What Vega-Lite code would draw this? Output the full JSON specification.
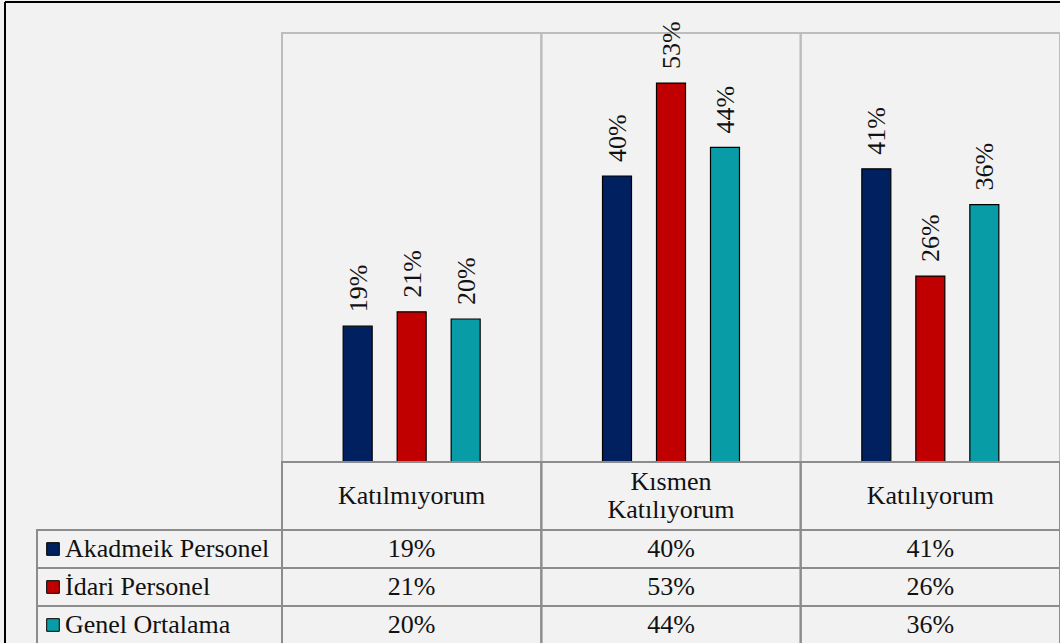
{
  "$schema": "https://vega.github.io/schema/vega-lite/v6.json",
  "background": "#f2f2f2",
  "padding": {"left": 4, "top": 1, "right": 0, "bottom": 0},
  "config": {
    "view": {"stroke": null},
    "concat": {"spacing": 0},
    "font": "Liberation Serif"
  },
  "datasets": {
    "survey": [
      {"cat": "Katılmıyorum", "series": "Akadmeik Personel", "value": 0.19},
      {"cat": "Katılmıyorum", "series": "İdari Personel", "value": 0.21},
      {"cat": "Katılmıyorum", "series": "Genel Ortalama", "value": 0.20},
      {"cat": "Kısmen Katılıyorum", "series": "Akadmeik Personel", "value": 0.40},
      {"cat": "Kısmen Katılıyorum", "series": "İdari Personel", "value": 0.53},
      {"cat": "Kısmen Katılıyorum", "series": "Genel Ortalama", "value": 0.44},
      {"cat": "Katılıyorum", "series": "Akadmeik Personel", "value": 0.41},
      {"cat": "Katılıyorum", "series": "İdari Personel", "value": 0.26},
      {"cat": "Katılıyorum", "series": "Genel Ortalama", "value": 0.36}
    ],
    "one": [{}],
    "cats": [{"cat": "Katılmıyorum"}, {"cat": "Kısmen Katılıyorum"}, {"cat": "Katılıyorum"}],
    "series": [{"series": "Akadmeik Personel"}, {"series": "İdari Personel"}, {"series": "Genel Ortalama"}]
  },
  "columns": 3,
  "spacing": 0,
  "bounds": "flush",
  "align": "each",
  "concat": [
    {
      "width": 32,
      "height": 460,
      "data": {"name": "one"},
      "layer": [
        {"mark": {"type": "rule", "color": "#000000", "strokeWidth": 2},
         "encoding": {"x": {"datum": 0, "type": "quantitative", "scale": {"domain": [0, 1]}, "axis": null}}},
        {"mark": {"type": "rule", "color": "#000000", "strokeWidth": 2},
         "encoding": {"y": {"datum": 1, "type": "quantitative", "scale": {"domain": [0, 1]}, "axis": null}}}
      ]
    },
    {
      "width": 245,
      "height": 460,
      "data": {"name": "one"},
      "mark": {"type": "rule", "color": "#000000", "strokeWidth": 2},
      "encoding": {"y": {"datum": 1, "type": "quantitative", "scale": {"domain": [0, 1]}, "axis": null}}
    },
    {
      "width": 778,
      "height": 460,
      "resolve": {"scale": {"x": "independent"}},
      "layer": [
        {
          "data": {"name": "cats"},
          "mark": {"type": "rect", "fillOpacity": 0, "stroke": "#bdbdbd", "strokeWidth": 2},
          "encoding": {
            "x": {"field": "cat", "type": "nominal", "sort": ["Katılmıyorum", "Kısmen Katılıyorum", "Katılıyorum"], "scale": {"paddingInner": 0, "paddingOuter": 0}, "axis": null},
            "y": {"datum": 0, "type": "quantitative", "scale": {"domain": [0, 0.6434]}, "axis": null},
            "y2": {"datum": 0.6}
          }
        },
        {
          "data": {"name": "one"},
          "mark": {"type": "rule", "color": "#000000", "strokeWidth": 2},
          "encoding": {"y": {"datum": 0.6434, "type": "quantitative", "scale": {"domain": [0, 0.6434]}, "axis": null}}
        },
        {
          "data": {"name": "survey"},
          "layer": [
            {
              "mark": {"type": "bar", "stroke": "#000000", "strokeWidth": 1.2},
              "encoding": {
                "color": {"field": "series", "type": "nominal", "scale": {"domain": ["Akadmeik Personel", "İdari Personel", "Genel Ortalama"], "range": ["#002060", "#C00000", "#089DA6"]}, "legend": null}
              }
            },
            {
              "mark": {"type": "text", "font": "Liberation Serif", "fontSize": 26, "color": "#111111", "angle": 270, "align": "left", "baseline": "middle", "dx": 14, "dy": 1},
              "encoding": {
                "text": {"field": "value", "type": "quantitative", "format": ".0%"}
              }
            }
          ],
          "encoding": {
            "x": {"field": "cat", "type": "nominal", "sort": ["Katılmıyorum", "Kısmen Katılıyorum", "Katılıyorum"], "scale": {"paddingInner": 0.0553, "paddingOuter": 0.02765}, "axis": null},
            "xOffset": {"field": "series", "type": "nominal", "sort": ["Akadmeik Personel", "İdari Personel", "Genel Ortalama"], "scale": {"paddingInner": 0.463, "paddingOuter": 1}},
            "y": {"field": "value", "type": "quantitative", "scale": {"domain": [0, 0.6434]}, "axis": null}
          }
        }
      ]
    },
    {
      "width": 32,
      "height": 68,
      "data": {"name": "one"},
      "mark": {"type": "rule", "color": "#000000", "strokeWidth": 2},
      "encoding": {"x": {"datum": 0, "type": "quantitative", "scale": {"domain": [0, 1]}, "axis": null}}
    },
    {
      "width": 245,
      "height": 68,
      "data": {"name": "one"},
      "mark": {"type": "text"},
      "encoding": {"text": {"value": ""}}
    },
    {
      "width": 778,
      "height": 68,
      "data": {"name": "cats"},
      "layer": [
        {
          "mark": {"type": "rect", "fillOpacity": 0, "stroke": "#8c8c8c", "strokeWidth": 2},
          "encoding": {
            "x": {"field": "cat", "type": "nominal", "sort": ["Katılmıyorum", "Kısmen Katılıyorum", "Katılıyorum"], "scale": {"paddingInner": 0, "paddingOuter": 0}, "axis": null}
          }
        },
        {
          "transform": [{"filter": "indexof(datum.cat, ' ') < 0"}],
          "mark": {"type": "text", "font": "Liberation Serif", "fontSize": 26, "color": "#111111", "baseline": "middle"},
          "encoding": {
            "x": {"field": "cat", "type": "nominal", "sort": ["Katılmıyorum", "Kısmen Katılıyorum", "Katılıyorum"], "scale": {"paddingInner": 0, "paddingOuter": 0}, "axis": null},
            "text": {"field": "cat"}
          }
        },
        {
          "transform": [{"filter": "indexof(datum.cat, ' ') >= 0"}],
          "mark": {"type": "text", "font": "Liberation Serif", "fontSize": 26, "color": "#111111", "lineBreak": " ", "lineHeight": 28, "baseline": "middle", "dy": -14},
          "encoding": {
            "x": {"field": "cat", "type": "nominal", "sort": ["Katılmıyorum", "Kısmen Katılıyorum", "Katılıyorum"], "scale": {"paddingInner": 0, "paddingOuter": 0}, "axis": null},
            "text": {"field": "cat"}
          }
        }
      ]
    },
    {
      "width": 32,
      "height": 114,
      "data": {"name": "one"},
      "mark": {"type": "rule", "color": "#000000", "strokeWidth": 2},
      "encoding": {"x": {"datum": 0, "type": "quantitative", "scale": {"domain": [0, 1]}, "axis": null}}
    },
    {
      "width": 245,
      "height": 114,
      "data": {"name": "series"},
      "layer": [
        {
          "mark": {"type": "rect", "fillOpacity": 0, "stroke": "#8c8c8c", "strokeWidth": 2},
          "encoding": {
            "y": {"field": "series", "type": "nominal", "sort": ["Akadmeik Personel", "İdari Personel", "Genel Ortalama"], "scale": {"paddingInner": 0, "paddingOuter": 0}, "axis": null}
          }
        },
        {
          "mark": {"type": "point", "shape": "square", "filled": true, "size": 160, "x": 16, "stroke": "#000000", "strokeWidth": 1, "opacity": 1},
          "encoding": {
            "y": {"field": "series", "type": "nominal", "sort": ["Akadmeik Personel", "İdari Personel", "Genel Ortalama"], "scale": {"paddingInner": 0, "paddingOuter": 0}, "axis": null},
            "fill": {"field": "series", "type": "nominal", "scale": {"domain": ["Akadmeik Personel", "İdari Personel", "Genel Ortalama"], "range": ["#002060", "#C00000", "#089DA6"]}, "legend": null}
          }
        },
        {
          "mark": {"type": "text", "font": "Liberation Serif", "fontSize": 26, "color": "#111111", "align": "left", "baseline": "middle", "x": 28},
          "encoding": {
            "y": {"field": "series", "type": "nominal", "sort": ["Akadmeik Personel", "İdari Personel", "Genel Ortalama"], "scale": {"paddingInner": 0, "paddingOuter": 0}, "axis": null},
            "text": {"field": "series"}
          }
        }
      ]
    },
    {
      "width": 778,
      "height": 114,
      "data": {"name": "survey"},
      "layer": [
        {
          "mark": {"type": "rect", "fillOpacity": 0, "stroke": "#8c8c8c", "strokeWidth": 2},
          "encoding": {
            "x": {"field": "cat", "type": "nominal", "sort": ["Katılmıyorum", "Kısmen Katılıyorum", "Katılıyorum"], "scale": {"paddingInner": 0, "paddingOuter": 0}, "axis": null},
            "y": {"field": "series", "type": "nominal", "sort": ["Akadmeik Personel", "İdari Personel", "Genel Ortalama"], "scale": {"paddingInner": 0, "paddingOuter": 0}, "axis": null}
          }
        },
        {
          "mark": {"type": "text", "font": "Liberation Serif", "fontSize": 26, "color": "#111111", "baseline": "middle"},
          "encoding": {
            "x": {"field": "cat", "type": "nominal", "sort": ["Katılmıyorum", "Kısmen Katılıyorum", "Katılıyorum"], "scale": {"paddingInner": 0, "paddingOuter": 0}, "axis": null},
            "y": {"field": "series", "type": "nominal", "sort": ["Akadmeik Personel", "İdari Personel", "Genel Ortalama"], "scale": {"paddingInner": 0, "paddingOuter": 0}, "axis": null},
            "text": {"field": "value", "type": "quantitative", "format": ".0%"}
          }
        }
      ]
    }
  ]
}
